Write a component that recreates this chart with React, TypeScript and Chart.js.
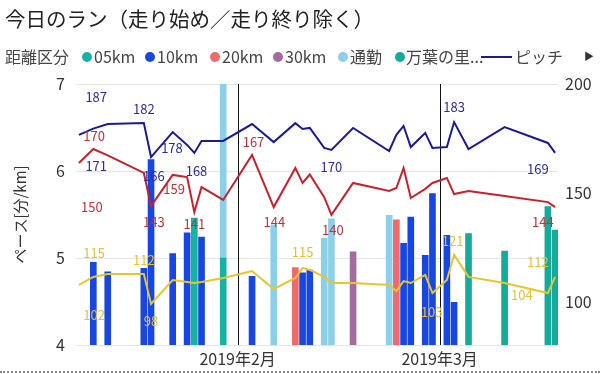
import React, { useEffect, useRef } from 'react';
import { Chart, registerables } from 'chart.js';

Chart.register(...registerables);

const FONT = '"Noto Sans CJK JP", "Noto Sans", sans-serif';

// x values are day numbers (2019-01-01 = 0)
const monthTickDays = [31, 59];
const monthTickLabels = ['2019年2月', '2019年3月'];

// pace bars (分/km) by 距離区分
const days05km = [25, 29];
const pace05km = [5.46, 5.0];
const days10km = [11, 13, 18, 19, 22, 24, 26, 33, 40, 41, 54, 55, 57, 58, 60, 61];
const pace10km = [4.95, 4.84, 4.88, 6.13, 5.05, 5.29, 5.24, 4.79, 4.83, 4.86, 5.17, 5.47, 5.03, 5.74, 5.26, 4.49];
const days20km = [39, 53];
const pace20km = [4.89, 5.44];
const days30km = [47];
const pace30km = [5.07];
const daysCommute = [29, 36, 43, 44, 52];
const paceCommute = [5.2, 5.38, 5.23, 5.45, 5.49];
const daysManyo = [63, 68, 74, 75];
const paceManyo = [5.28, 5.08, 5.59, 5.32];

// lines (right axis)
const lineDays = [9, 11, 13, 18, 19, 22, 24, 25, 26, 29, 33, 36, 39, 40, 41, 43, 44, 47, 52, 53, 54, 55, 57, 58, 60, 61, 63, 68, 74, 75];
const pitch = [176.6, 179.5, 181.6, 182.1, 166.4, 177.9, 172, 168.3, 173.8, 173.8, 181.6, 173.3, 182, 179.3, 179.8, 170.6, 169.7, 179.8, 169.2, 176.6, 180.7, 171, 177.5, 170.6, 171, 182.5, 170.1, 180.2, 172.9, 168.3];
const heartRate = [163.7, 170.1, 167.2, 159.1, 143.9, 158.2, 157.2, 141.1, 152.6, 146.7, 167.4, 143.4, 161.4, 154.5, 158.4, 148, 139.8, 154.5, 150.8, 152.2, 161.4, 147.6, 151.8, 154.5, 156.8, 149.4, 150.8, 148.5, 145.7, 143.4];
const stride = [107.6, 111.3, 112.6, 112.6, 98.9, 109.9, 109, 108.5, 109, 110.8, 114, 105.7, 110.8, 115.4, 114.5, 111.3, 108.5, 108.5, 107.6, 104.8, 109.4, 108.5, 112.2, 103.9, 109.9, 121.4, 111.3, 108.5, 103.9, 111.3];

// data labels (text, day, right-axis value)
const pitchLabelTexts = ['187', '182', '171', '178', '166', '168', '170', '183', '169'];
const pitchLabelDays = [11.4, 18.0, 11.4, 21.9, 19.4, 25.3, 44.0, 61.0, 72.6];
const pitchLabelValues = [194.0, 188.5, 162.3, 170.6, 157.7, 160.0, 161.8, 189.4, 160.9];
const hrLabelTexts = ['170', '150', '159', '143', '141', '167', '144', '140', '144'];
const hrLabelDays = [11.1, 10.8, 22.2, 19.4, 25.0, 33.2, 36.1, 44.2, 73.3];
const hrLabelValues = [176.1, 143.4, 151.7, 136.6, 135.6, 173.3, 136.6, 132.9, 136.6];
const strideLabelTexts = ['115', '102', '112', '98', '115', '103', '121', '104', '112'];
const strideLabelDays = [11.1, 11.1, 18.0, 19.0, 40.0, 57.9, 60.8, 70.4, 72.6];
const strideLabelValues = [122.3, 93.8, 119.1, 91.0, 122.8, 95.2, 127.8, 103.0, 118.2];

const C05 = '#17b3a2';
const C10 = '#1747e0';
const C20 = '#f0696b';
const C30 = '#a36c9f';
const CCOM = '#8bd0e8';
const CMAN = '#14ab9a';
const CPITCH = '#1c1a94';
const CHR = '#c8202c';
const CSTRIDE = '#e7c52c';

const pts = (d: number[], v: number[]) => d.map((x, i) => ({ x, y: v[i] }));

const overlayPlugin = {
  id: 'overlay',
  beforeDatasetsDraw(chart: any) {
    const { ctx, chartArea, scales } = chart;
    ctx.save();
    ctx.strokeStyle = '#111';
    ctx.lineWidth = 1;
    monthTickDays.forEach((d) => {
      const x = Math.round(scales.x.getPixelForValue(d)) + 0.5;
      ctx.beginPath();
      ctx.moveTo(x, chartArea.top);
      ctx.lineTo(x, chartArea.bottom);
      ctx.stroke();
    });
    ctx.restore();
  },
  afterDatasetsDraw(chart: any) {
    const { ctx, scales } = chart;
    ctx.save();
    ctx.font = `13px ${FONT}`;
    ctx.textAlign = 'center';
    ctx.textBaseline = 'middle';
    const groups: [string[], number[], number[], string][] = [
      [pitchLabelTexts, pitchLabelDays, pitchLabelValues, '#2e2c9c'],
      [hrLabelTexts, hrLabelDays, hrLabelValues, '#c2303a'],
      [strideLabelTexts, strideLabelDays, strideLabelValues, '#e2c237'],
    ];
    groups.forEach(([t, d, v, c]) => {
      ctx.fillStyle = c;
      t.forEach((s, i) => {
        ctx.fillText(s, scales.x.getPixelForValue(d[i]), scales.y1.getPixelForValue(v[i]));
      });
    });
    ctx.restore();
  },
};

const legendItems = [
  { label: '05km', color: C05, dot: 87, text: 94 },
  { label: '10km', color: C10, dot: 150, text: 157 },
  { label: '20km', color: C20, dot: 215, text: 222 },
  { label: '30km', color: C30, dot: 278, text: 285 },
  { label: '通勤', color: CCOM, dot: 343, text: 350 },
  { label: '万葉の里...', color: CMAN, dot: 400, text: 406 },
];

export default function App() {
  const ref = useRef<HTMLCanvasElement>(null);

  useEffect(() => {
    const bar = (label: string, d: number[], v: number[], color: string) => ({
      type: 'bar' as const,
      label,
      data: pts(d, v),
      backgroundColor: color,
      barThickness: 6,
      yAxisID: 'y',
      order: 2,
    });
    const line = (label: string, v: number[], color: string) => ({
      type: 'line' as const,
      label,
      data: pts(lineDays, v),
      borderColor: color,
      backgroundColor: color,
      borderWidth: 2,
      pointRadius: 0,
      tension: 0,
      yAxisID: 'y1',
      order: 1,
    });
    const chart = new Chart(ref.current as HTMLCanvasElement, {
      type: 'bar',
      data: {
        datasets: [
          line('ピッチ', pitch, CPITCH),
          line('心拍数', heartRate, CHR),
          line('歩幅', stride, CSTRIDE),
          bar('05km', days05km, pace05km, C05),
          bar('10km', days10km, pace10km, C10),
          bar('20km', days20km, pace20km, C20),
          bar('30km', days30km, pace30km, C30),
          bar('通勤', daysCommute, paceCommute, CCOM),
          bar('万葉の里', daysManyo, paceManyo, CMAN),
        ] as any,
      },
      options: {
        animation: false,
        responsive: false,
        maintainAspectRatio: false,
        layout: { padding: { top: 84, left: 0, right: 0, bottom: 0 } },
        plugins: { legend: { display: false }, tooltip: { enabled: false }, title: { display: false } },
        scales: {
          x: {
            type: 'linear',
            min: 8.6,
            max: 75.4,
            offset: false,
            stacked: true,
            grid: { display: false, offset: false, drawTicks: false },
            border: { display: false },
            afterBuildTicks: (s: any) => {
              s.ticks = monthTickDays.map((value) => ({ value }));
            },
            afterFit: (s: any) => {
              s.height = 29;
            },
            ticks: {
              autoSkip: false,
              maxRotation: 0,
              padding: 4,
              color: '#333',
              font: { family: FONT, size: 16 },
              callback: (value: any) => {
                const i = monthTickDays.indexOf(Number(value));
                return i >= 0 ? monthTickLabels[i] : '';
              },
            },
          },
          y: {
            type: 'linear',
            position: 'left',
            min: 4,
            max: 7,
            stacked: true,
            grid: { color: '#e6e6e6', drawTicks: false },
            border: { display: false },
            afterFit: (s: any) => {
              s.width = 76;
            },
            ticks: {
              stepSize: 1,
              padding: 11,
              color: '#333',
              font: { family: FONT, size: 16 },
            },
            title: {
              display: true,
              text: 'ペース[分/km]',
              color: '#333',
              font: { family: FONT, size: 15 },
              padding: { top: 11, bottom: 0 },
            },
          },
          y1: {
            type: 'linear',
            position: 'right',
            min: 80,
            max: 200,
            stacked: false,
            grid: { display: false, drawTicks: false },
            border: { display: false },
            afterBuildTicks: (s: any) => {
              s.ticks = [100, 150, 200].map((value) => ({ value }));
            },
            afterFit: (s: any) => {
              s.width = 42;
            },
            ticks: {
              padding: 7,
              color: '#333',
              font: { family: FONT, size: 16 },
            },
          },
        },
      } as any,
      plugins: [overlayPlugin],
    });
    return () => chart.destroy();
  }, []);

  return (
    <div
      style={{
        position: 'fixed',
        left: 0,
        top: 0,
        width: 600,
        height: 374,
        background: '#fff',
        overflow: 'hidden',
        fontFamily: FONT,
      }}
    >
      <canvas ref={ref} width={600} height={374} style={{ position: 'absolute', left: 0, top: 0, width: 600, height: 374 }} />
      <div style={{ position: 'absolute', left: 5, top: 4, fontSize: 20.5, lineHeight: '28px', color: '#222', whiteSpace: 'nowrap' }}>
        今日のラン（走り始め／走り終り除く）
      </div>
      <div style={{ position: 'absolute', left: 5, top: 45, fontSize: 16, lineHeight: '22px', color: '#444', whiteSpace: 'nowrap' }}>
        距離区分
      </div>
      {legendItems.map((it) => (
        <React.Fragment key={it.label}>
          <div
            style={{
              position: 'absolute',
              left: it.dot - 5,
              top: 52,
              width: 10,
              height: 10,
              borderRadius: 5,
              background: it.color,
            }}
          />
          <div style={{ position: 'absolute', left: it.text, top: 45, fontSize: 16, lineHeight: '22px', color: '#444', whiteSpace: 'nowrap' }}>
            {it.label}
          </div>
        </React.Fragment>
      ))}
      <div style={{ position: 'absolute', left: 481, top: 56, width: 31, height: 2, background: CPITCH }} />
      <div style={{ position: 'absolute', left: 515, top: 45, fontSize: 16, lineHeight: '22px', color: '#444', whiteSpace: 'nowrap' }}>
        ピッチ
      </div>
      <div style={{ position: 'absolute', left: 584, top: 49, fontSize: 10, lineHeight: '14px', color: '#333' }}>▶</div>
      <div style={{ position: 'absolute', left: 0, top: 371, width: 600, borderTop: '2px dotted #8a8a8a' }} />
    </div>
  );
}
